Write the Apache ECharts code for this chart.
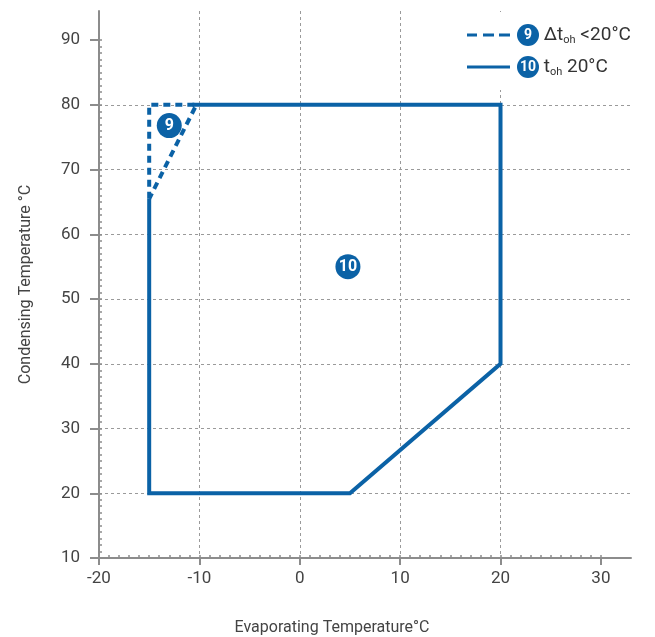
<!DOCTYPE html>
<html>
<head>
<meta charset="utf-8">
<script src="https://cdn.jsdelivr.net/npm/echarts@6/dist/echarts.min.js"></script>
<style>html,body{margin:0;padding:0;background:#fff;}#c{width:655px;height:637px;}</style>
</head>
<body>
<div id="c"></div>
<script>
// ---- data ----
const xTickLabels = [-20, -10, 0, 10, 20, 30];
const yTickLabels = [10, 20, 30, 40, 50, 60, 70, 80, 90];
// series 9 (dashed, Δt_oh < 20°C)
const dashedX = [-15, -15, -10.3, -15];
const dashedY = [65.5, 80, 80, 65.5];
// series 10 (solid, t_oh 20°C)
const solidX = [-10.7, 20, 20, 5, -15, -15];
const solidY = [80, 80, 40, 20, 20, 65.5];
// circled region labels
const markerX = [-13, 4.8];
const markerY = [76.8, 55];
const markerText = ['9', '10'];
const seriesNames = ['9', '10'];

const BLUE = '#0b62a6';
const AXIS = '#8c8c8c';
const FONT = "Roboto, 'Liberation Sans', sans-serif";

const xMinor = [];
for (let v = -20; v <= 30; v += 1) xMinor.push(v);
const yMinor = [];
for (let v = 10; v <= 90; v += 1) yMinor.push(v);

const zip = (a, b) => a.map((v, i) => [v, b[i]]);

const chart = echarts.init(document.getElementById('c'), null, {renderer: 'canvas'});
chart.setOption({
  animation: false,
  backgroundColor: '#fff',
  textStyle: {fontFamily: FONT},
  grid: {left: 99, right: 24, top: 11, bottom: 79, containLabel: false, outerBoundsMode: 'none'},
  xAxis: [{
    type: 'value', min: -20, max: 33, interval: 10, position: 'bottom',
    axisLine: {show: true, onZero: false, lineStyle: {color: AXIS, width: 2}},
    axisTick: {show: true, length: 7, customValues: xTickLabels, lineStyle: {color: AXIS, width: 2}},
    axisLabel: {show: true, customValues: xTickLabels, margin: 12, fontSize: 17, color: '#444', fontFamily: FONT},
    splitLine: {show: true, showMinLine: false, showMaxLine: false, lineStyle: {type: [3, 3], color: '#9a9a9a', width: 1}},
    name: 'Evaporating Temperature°C', nameLocation: 'middle', nameGap: 62,
    nameTextStyle: {fontSize: 16, color: '#444', fontFamily: FONT, padding: [0, 66, 0, 0]}
  }, {
    type: 'value', min: -20, max: 33, interval: 10, position: 'bottom',
    axisLine: {show: false, onZero: false},
    axisTick: {show: true, inside: true, length: 3, customValues: xMinor, lineStyle: {color: AXIS, width: 1.5}},
    axisLabel: {show: false}, splitLine: {show: false}
  }],
  yAxis: [{
    type: 'value', min: 10, max: 94.5, interval: 10, position: 'left',
    axisLine: {show: true, onZero: false, lineStyle: {color: AXIS, width: 2}},
    axisTick: {show: true, length: 9, customValues: yTickLabels, lineStyle: {color: AXIS, width: 2}},
    axisLabel: {show: true, customValues: yTickLabels, margin: 19, fontSize: 17, color: '#444', fontFamily: FONT, padding: [0, 0, 10, 0]},
    splitLine: {show: true, showMinLine: false, showMaxLine: false, lineStyle: {type: [3, 3], color: '#9a9a9a', width: 1}},
    name: 'Condensing Temperature °C', nameLocation: 'middle', nameGap: 65,
    nameTextStyle: {fontSize: 16, color: '#444', fontFamily: FONT}
  }, {
    type: 'value', min: 10, max: 94.5, interval: 10, position: 'left',
    axisLine: {show: false, onZero: false},
    axisTick: {show: true, inside: true, length: 3, customValues: yMinor, lineStyle: {color: AXIS, width: 1.5}},
    axisLabel: {show: false}, splitLine: {show: false}
  }],
  legend: {
    show: true, orient: 'vertical', align: 'left',
    left: 447, top: 12,
    padding: [12, 8, 12, 20],
    backgroundColor: '#fff',
    itemWidth: 43, itemHeight: 3, itemGap: 10,
    data: [
      {name: seriesNames[0], icon: 'path://M0,0h10v3h-10z M16,0h11v3h-11z M32,0h11v3h-11z', itemStyle: {color: BLUE}},
      {name: seriesNames[1], icon: 'rect', itemStyle: {color: BLUE}}
    ],
    formatter: function (name) {
      if (name === '9') return '{g|}{c|9} {t|Δt}{s|oh}{t| <20°C}';
      return '{g|}{c|10} {t|t}{s|oh}{t| 20°C}';
    },
    textStyle: {
      fontFamily: FONT, color: '#333', fontSize: 19,
      rich: {
        g: {width: 2, height: 22},
        c: {backgroundColor: BLUE, color: '#fff', width: 22, height: 22, borderRadius: 11, align: 'center',
            fontSize: 14, fontWeight: 'bold', lineHeight: 22, fontFamily: FONT},
        t: {fontSize: 19, color: '#333', fontFamily: FONT, lineHeight: 22},
        s: {fontSize: 11, color: '#333', fontFamily: FONT, lineHeight: 22, verticalAlign: 'bottom', padding: [8, 0, 0, 0]}
      }
    }
  },
  series: [{
    name: seriesNames[0], type: 'line', xAxisIndex: 0, yAxisIndex: 0,
    data: zip(dashedX, dashedY), showSymbol: false, symbol: 'none',
    lineStyle: {color: BLUE, width: 4, type: [7, 5]}, itemStyle: {color: BLUE}, z: 3
  }, {
    name: seriesNames[1], type: 'line', xAxisIndex: 0, yAxisIndex: 0,
    data: zip(solidX, solidY), showSymbol: false, symbol: 'none',
    lineStyle: {color: BLUE, width: 4, type: 'solid', join: 'miter'}, itemStyle: {color: BLUE}, z: 3
  }, {
    name: 'markers', type: 'scatter', xAxisIndex: 0, yAxisIndex: 0,
    data: zip(markerX, markerY).map((p, i) => ({value: p, label: {formatter: markerText[i]}})),
    symbolSize: 25, itemStyle: {color: BLUE, opacity: 1},
    label: {show: true, position: 'inside', color: '#fff', fontSize: 16, fontWeight: 'bold', fontFamily: FONT},
    z: 4
  }]
});
</script>
</body>
</html>
